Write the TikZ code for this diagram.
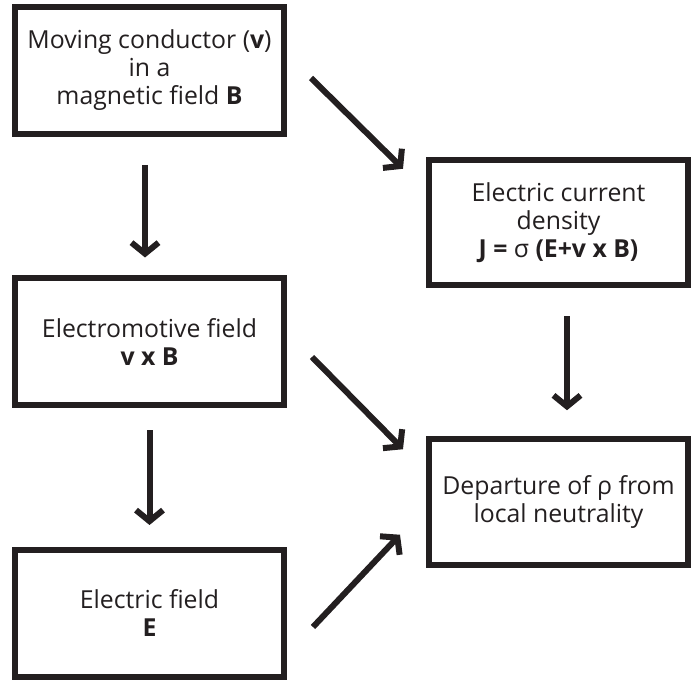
\documentclass[tikz,border=0pt]{standalone}
\usepackage{fontspec}
\setmainfont{Open Sans}
\usepackage{tikz}
\usetikzlibrary{arrows.meta,positioning,calc}
\definecolor{ink}{HTML}{231F20}
\tikzset{
block/.style = {draw=ink, text=ink, line width=6pt, rectangle, align=center, minimum width=269pt, minimum height=127pt, font=\fontsize{24.8}{28}\selectfont},
rblock/.style = {block, minimum width=259pt, minimum height=125.5pt},
link/.style = {->, draw=ink, line width=6pt}
}
\begin{document}
\begin{tikzpicture}[x=1pt, y=1pt, >={Straight Barb[length=11pt,width=27pt]}]
	\useasboundingbox (0,0) rectangle (691,680);
	\node[block] (mov) at (149.5,609.5) {Moving conductor (\textbf{v})\\ in a\\ magnetic field \textbf{B}};
	\node[block, below of=mov, node distance=271.5pt] (emf) {Electromotive field\\ \textbf{v x B}};
	\node[block, below of=emf, node distance=271.5pt] (efield) {Electric field\\ \textbf{E}};
	\node[rblock] (cur) at (558.5,457.5) {Electric current\\ density\\ \textbf{J =} σ \textbf{(E+v x B)}};
	\node[rblock, below of=cur, node distance=279.5pt] (dep) {Departure of ρ from\\ local neutrality};
	\draw[link] ([xshift=-4.5pt,yshift=-28pt]mov.south) -- ([xshift=-4.5pt,yshift=18pt]emf.north);
	\draw[link] ([yshift=-22pt]emf.south) -- ([yshift=22pt]efield.north);
	\draw[link] ([xshift=8.5pt,yshift=-28pt]cur.south) -- ([xshift=8.5pt,yshift=26pt]dep.north);
	\draw[link] ([xshift=24pt,yshift=-7.5pt]mov.east) -- ([xshift=-23pt,yshift=-12pt]cur.north west);
	\draw[link] ([xshift=25pt,yshift=-15pt]emf.east) -- ([xshift=-23pt,yshift=-13pt]dep.north west);
	\draw[link] ([xshift=26pt,yshift=-13.5pt]efield.east) -- ([xshift=-26pt,yshift=33pt]dep.south west);
\end{tikzpicture}
\end{document}
